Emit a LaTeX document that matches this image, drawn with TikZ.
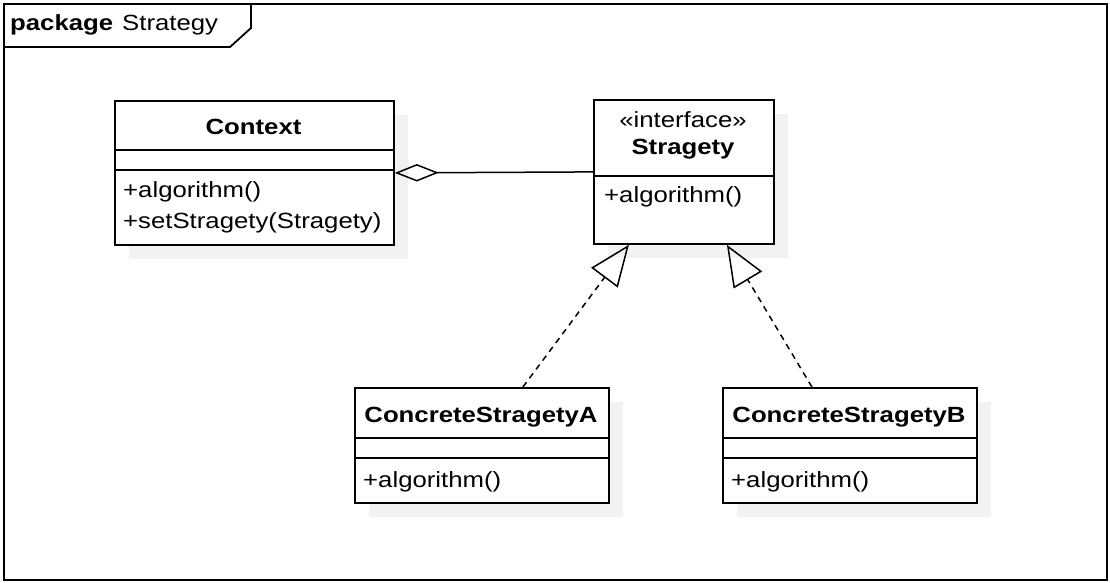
\documentclass[tikz,border=0pt]{standalone}
\usepackage{fontspec}
\setmainfont[FakeStretch=1.17]{Liberation Sans}
\usetikzlibrary{arrows.meta,calc,shadows}
\definecolor{shadowgray}{HTML}{F2F2F2}
\begin{document}
\begin{tikzpicture}[x=1pt,y=-1pt,
  box/.style={draw, line width=1.8pt, fill=white, anchor=north west, inner sep=0pt,
    drop shadow={shadow xshift=14pt, shadow yshift=-14pt, fill=shadowgray, opacity=1, draw=none}},
  divider/.style={line width=1.8pt},
  txt/.style={inner sep=0pt, anchor=base, font=\fontsize{22}{26}\selectfont},
  btxt/.style={txt, font=\fontsize{22}{26}\selectfont\bfseries},
  optxt/.style={txt, anchor=base west},
  frameline/.style={line width=1.8pt},
  assoc/.style={line width=1.5pt, -{Diamond[open,length=44pt,width=17.5pt]}},
  realize/.style={line width=1.5pt, dash pattern=on 6pt off 5pt, -{Triangle[open,length=41pt,width=33pt]}}
]
\useasboundingbox (0,0) rectangle (1110,582);
\fill[white] (0,0) rectangle (1110,582);

% package frame
\node[draw, line width=1.8pt, anchor=north west, inner sep=0pt, minimum width=1103pt, minimum height=576pt] (pkg) at (3,3) {};
\draw[frameline] ($(pkg.north west)+(0,44)$) -- ++(227,0) -- ++(21,-19) -- ($(pkg.north west)+(248,0)$);
\node[btxt, anchor=base west] (pkgkw) at (10,30) {package};
\node[txt, anchor=base west] (pkgname) at (122,30) {Strategy};

% classes
\node[box, minimum width=279pt, minimum height=144pt] (ctx) at (114,100) {};
\node[box, minimum width=180pt, minimum height=144pt] (str) at (593,99) {};
\node[box, minimum width=254pt, minimum height=115pt] (ca) at (354,387) {};
\node[box, minimum width=254pt, minimum height=115pt] (cb) at (722,387) {};

\draw[divider] ($(ctx.north west)+(0,50)$) -- ($(ctx.north east)+(0,50)$);
\draw[divider] ($(ctx.north west)+(0,70)$) -- ($(ctx.north east)+(0,70)$);
\draw[divider] ($(str.north west)+(0,77)$) -- ($(str.north east)+(0,77)$);
\draw[divider] ($(ca.north west)+(0,51)$) -- ($(ca.north east)+(0,51)$);
\draw[divider] ($(ca.north west)+(0,71)$) -- ($(ca.north east)+(0,71)$);
\draw[divider] ($(cb.north west)+(0,51)$) -- ($(cb.north east)+(0,51)$);
\draw[divider] ($(cb.north west)+(0,71)$) -- ($(cb.north east)+(0,71)$);

% texts
\node[btxt] (ctxname) at (253.5,134) {Context};
\node[optxt] (ctxop1) at (123,197) {+algorithm()};
\node[optxt] (ctxop2) at (123,228) {+setStragety(Stragety)};
\node[txt] (strst) at (683,127) {«interface»};
\node[btxt] (strname) at (683,154) {Stragety};
\node[optxt] (strop) at (604,202) {+algorithm()};
\node[btxt] (caname) at (481,422) {ConcreteStragetyA};
\node[optxt] (caop) at (363,487) {+algorithm()};
\node[btxt] (cbname) at (849,422) {ConcreteStragetyB};
\node[optxt] (cbop) at (731,487) {+algorithm()};

% connectors
\draw[assoc] (str.west) -- (ctx.east);
\draw[realize] ($(ca.north)+(41,0)$) -- ($(str.south)+(-55,0)$);
\draw[realize] ($(cb.north)+(-38,0)$) -- ($(str.south)+(43,0)$);
\end{tikzpicture}
\end{document}
